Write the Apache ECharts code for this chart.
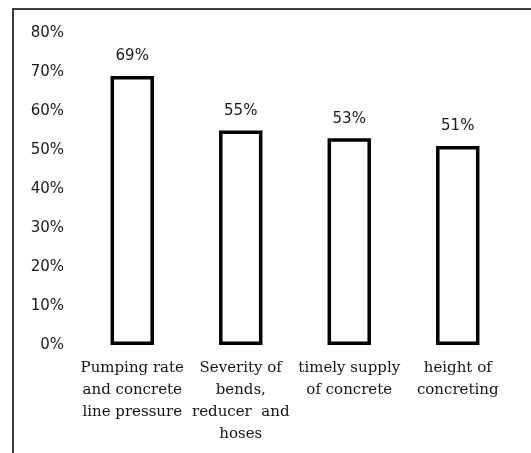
<!DOCTYPE html>
<html>
<head>
<meta charset="utf-8">
<script src="https://cdn.jsdelivr.net/npm/echarts@6/dist/echarts.min.js"></script>
<style>
  html, body { margin: 0; padding: 0; background: #fff; }
  #chart { width: 531px; height: 453px; }
</style>
</head>
<body>
<div id="chart"></div>
<script>
// Problem factors and the share of respondents citing each one
const categories = [
  'Pumping rate\nand concrete\nline pressure',
  'Severity of\nbends,\nreducer  and\nhoses',
  'timely supply\nof concrete',
  'height of\nconcreting'
];
const shares = [69, 55, 53, 51];
const yTicks = { min: 0, max: 80, step: 10 };

const chart = echarts.init(document.getElementById('chart'));
chart.setOption({
  animation: false,
  backgroundColor: '#ffffff',
  graphic: [{
    type: 'rect',
    shape: { x: 13, y: 9, width: 700, height: 700 },
    style: { fill: 'none', stroke: '#3c3c3c', lineWidth: 2 },
    silent: true
  }],
  grid: { left: 78, right: 19, top: 33, bottom: 108 },
  xAxis: {
    type: 'category',
    data: categories,
    axisLine: { show: false },
    axisTick: { show: false },
    axisLabel: {
      interval: 0,
      margin: 12,
      fontFamily: 'DejaVu Serif',
      fontSize: 15,
      lineHeight: 22,
      color: '#141414'
    }
  },
  yAxis: {
    type: 'value',
    min: yTicks.min,
    max: yTicks.max,
    interval: yTicks.step,
    axisLine: { show: false },
    axisTick: { show: false },
    splitLine: { show: false },
    axisLabel: {
      margin: 14,
      formatter: '{value}%',
      fontFamily: 'DejaVu Sans',
      fontSize: 15,
      color: '#1a1a1a'
    }
  },
  series: [{
    type: 'bar',
    data: shares,
    barWidth: '40%',
    itemStyle: { color: '#ffffff', borderColor: '#000000', borderWidth: 3.5 },
    label: {
      show: true,
      position: 'top',
      distance: 12,
      formatter: '{c}%',
      fontFamily: 'DejaVu Sans',
      fontSize: 15,
      color: '#1a1a1a'
    }
  }]
});
</script>
</body>
</html>
